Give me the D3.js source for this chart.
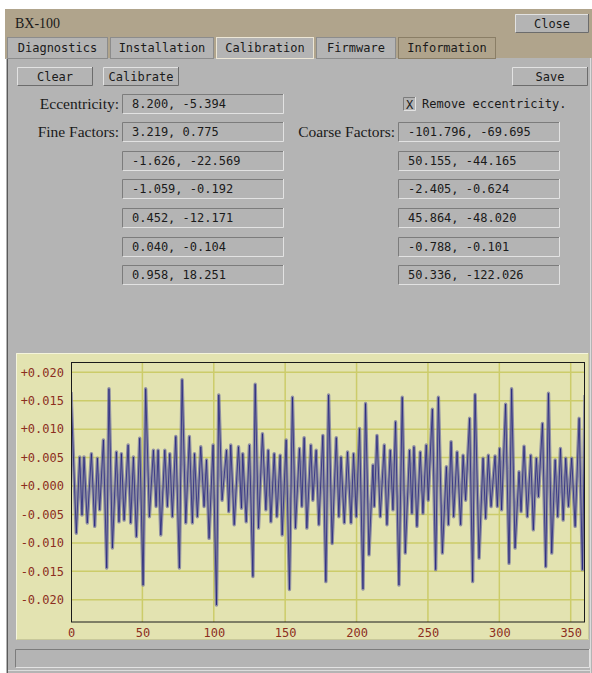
<!DOCTYPE html>
<html>
<head>
<meta charset="utf-8">
<script src="https://cdn.jsdelivr.net/npm/d3@7"></script>
<style>
  body { margin: 0; background: #ffffff; }
  svg { display: block; }
  .mono { font-family: "DejaVu Sans Mono", monospace; font-size: 12px; fill: #1a1a1a; }
  .serif { font-family: "Liberation Serif", "DejaVu Serif", serif; font-size: 15.5px; fill: #1a1a1a; }
</style>
</head>
<body>
<svg id="win" width="592" height="673"></svg>
<script>
// ---- texts of the window
var tabNames = ["Diagnostics", "Installation", "Calibration", "Firmware", "Information"];
var eccentricity = "8.200, -5.394";
var fineFactors = ["3.219, 0.775", "-1.626, -22.569", "-1.059, -0.192", "0.452, -12.171", "0.040, -0.104", "0.958, 18.251"];
var coarseFactors = ["-101.796, -69.695", "50.155, -44.165", "-2.405, -0.624", "45.864, -48.020", "-0.788, -0.101", "50.336, -122.026"];

// ---- chart data (angle in degrees, residual)
var angleDeg = [0, 3.7, 6.1, 7.7, 9.1, 11.4, 14.3, 16.6, 18.5, 20.1, 22.7, 25.0, 26.6, 29.0, 31.8, 33.6, 35.3, 37.2, 40.0, 41.8,
  43.7, 45.8, 48.1, 50.5, 52.3, 54.9, 57.7, 59.6, 61.0, 62.9, 65.7, 67.5, 69.2, 71.0, 73.4, 75.9, 77.8, 80.4, 82.9, 85.0,
  86.5, 88.5, 90.9, 93.2, 94.9, 96.7, 99.5, 101.9, 103.5, 105.8, 108.9, 110.5, 111.9, 114.3, 117.3, 119.4,
  120.3, 122.7, 125.0, 127.4, 129.0, 131.3, 134.1, 136.5, 138.1, 140.0, 142.3, 144.2, 146.5, 147.9, 150.7, 153.0, 155.1, 157.2,
  160.0, 161.7, 163.3, 165.2, 168.0, 169.4, 171.7, 173.6, 176.4, 178.5, 180.4, 182.9, 185.8, 187.6, 189.1, 191.4, 193.7, 196.1,
  197.9, 199.8, 202.1, 204.5, 206.3, 208.7, 211.5, 212.4, 214.3, 216.6, 219.4, 221.3, 223.6, 225.5, 227.3, 229.7, 232.0, 234.1,
  237.1, 238.8, 240.2, 242.3, 244.6, 246.5, 248.8, 250.2, 253.1, 255.4, 257.3, 260.1, 262.9, 264.3, 266.2, 268.0, 270.4, 272.9,
  274.6, 276.4, 279.2, 281.3, 283.0, 285.8, 288.6, 290.4, 292.3, 294.2, 297.0, 298.6, 300.2, 301.6, 304.4, 306.8, 308.6, 311.0,
  313.8, 315.2, 317.3, 319.6, 322.0, 323.8, 325.9, 327.4, 330.2, 332.5, 334.4, 336.7, 339.1, 340.9, 342.8, 344.7, 346.5, 348.4,
  350.7, 353.1, 355.9, 358.2, 360];
var residual = [0.0165, -0.0083, 0.0051, -0.0051, 0.0051, -0.0065, 0.0057, -0.0071, 0.0049, -0.0042, 0.0081, -0.0144, 0.0171, -0.0109, 0.0060, -0.0063, 0.0057, -0.0060, 0.0072, -0.0065,
  0.0051, -0.0089, 0.0084, -0.0174, 0.0171, -0.0054, 0.0063, -0.0036, 0.0063, -0.0086, 0.0063, -0.0036, 0.0057, -0.0054, 0.0087, -0.0144, 0.0187, -0.0065, 0.0087, -0.0065,
  0.0057, -0.0054, 0.0069, -0.0036, 0.0046, -0.0092, 0.0072, -0.0209, 0.0160, -0.0025, 0.0063, -0.0045, 0.0072, -0.0068, 0.0069, -0.0039,
  0.0057, -0.0063, 0.0072, -0.0159, 0.0179, -0.0074, 0.0092, -0.0042, 0.0063, -0.0063, 0.0057, -0.0054, 0.0054, -0.0086, 0.0081, -0.0182, 0.0156, -0.0074,
  0.0066, -0.0036, 0.0085, -0.0074, 0.0072, -0.0025, 0.0063, -0.0068, 0.0089, -0.0168, 0.0160, -0.0101, 0.0085, -0.0054, 0.0051, -0.0065, 0.0060, -0.0065,
  0.0057, -0.0054, 0.0101, -0.0181, 0.0145, -0.0121, 0.0037, -0.0036, 0.0089, -0.0054, 0.0072, -0.0068, 0.0063, -0.0042, 0.0113, -0.0174, 0.0156, -0.0118,
  0.0063, -0.0048, 0.0069, -0.0071, 0.0060, -0.0048, 0.0072, -0.0025, 0.0135, -0.0147, 0.0156, -0.0118, 0.0034, -0.0068, 0.0078, -0.0054, 0.0060, -0.0068,
  0.0054, -0.0025, 0.0119, -0.0168, 0.0161, -0.0127, 0.0049, -0.0057, 0.0054, -0.0036, 0.0053, -0.0036, 0.0066, -0.0042, 0.0144, -0.0136, 0.0171, -0.0109,
  0.0025, -0.0045, 0.0070, -0.0054, 0.0054, -0.0077, 0.0049, -0.0019, 0.0110, -0.0142, 0.0163, -0.0118, 0.0046, -0.0054, 0.0066, -0.0060, 0.0049, -0.0036,
  0.0049, -0.0071, 0.0119, -0.0147, 0.0160];
var xTicks = [0, 50, 100, 150, 200, 250, 300, 350];
var yTicks = [-0.020, -0.015, -0.010, -0.005, 0.000, 0.005, 0.010, 0.015, 0.020];

var svg = d3.select("#win");

var tan = "#b0a48c", gray = "#b4b4b4";

// bevelled box: raised (buttons) or sunken (fields)
function bevel(x, y, w, h, sunken, face) {
    var g = svg.append("g");
    g.append("rect").attr("x", x).attr("y", y).attr("width", w).attr("height", h).attr("fill", face || gray);
    var lite = sunken ? "#7c7c7c" : "#e2e2e2";
    var dark = sunken ? "#e2e2e2" : "#6c6c6c";
    g.append("path").attr("d", "M" + (x + 0.5) + "," + (y + h) + "V" + (y + 0.5) + "H" + (x + w))
        .attr("fill", "none").attr("stroke", lite);
    g.append("path").attr("d", "M" + (x + 0.5) + "," + (y + h - 0.5) + "H" + (x + w - 0.5) + "V" + y)
        .attr("fill", "none").attr("stroke", dark);
    return g;
}

function button(x, y, w, h, label) {
    bevel(x, y, w, h, false);
    svg.append("text").attr("class", "mono").attr("x", x + w / 2).attr("y", y + h / 2 + 4)
        .attr("text-anchor", "middle").text(label);
}

function field(x, y, txt) {
    bevel(x, y, 162, 20, true);
    svg.append("text").attr("class", "mono").attr("x", x + 10).attr("y", y + 14).text(txt);
}

// ---- window chrome
svg.append("rect").attr("x", 5).attr("y", 9).attr("width", 587).attr("height", 50).attr("fill", tan);
svg.append("text").attr("class", "serif").attr("x", 15).attr("y", 28).style("font-size", "14px").text("BX-100");
button(515, 14, 74, 19, "Close");

svg.append("rect").attr("x", 6).attr("y", 58).attr("width", 586).attr("height", 615).attr("fill", gray);
svg.append("line").attr("x1", 7.5).attr("x2", 7.5).attr("y1", 58).attr("y2", 673).attr("stroke", "#5a5a5a");
svg.append("line").attr("x1", 590.5).attr("x2", 590.5).attr("y1", 58).attr("y2", 673).attr("stroke", "#dcdcdc");
svg.append("line").attr("x1", 8).attr("x2", 591).attr("y1", 670.5).attr("y2", 670.5).attr("stroke", "#dcdcdc");

// tabs
var tabX = [7, 110, 216, 316, 398], tabW = [100, 103, 97, 79, 97];
tabNames.forEach(function(name, i) {
    var sel = name === "Calibration";
    var info = name === "Information";
    svg.append("rect").attr("x", tabX[i] + 0.5).attr("y", 37.5).attr("width", tabW[i]).attr("height", 21)
        .attr("fill", info ? tan : gray)
        .attr("stroke", sel ? "#ece6d6" : (info ? "#8a7e66" : "#8c8c8c"));
    svg.append("text").attr("class", "mono").attr("x", tabX[i] + tabW[i] / 2 + 0.5).attr("y", 52)
        .attr("text-anchor", "middle").text(name);
});

button(17, 67, 76, 19, "Clear");
button(103, 67, 76, 19, "Calibrate");
button(512, 67, 76, 19, "Save");

// ---- factor fields
var rowY = d3.range(7).map(function(i) { return 93.5 + i * 28.6; });
svg.append("text").attr("class", "serif").attr("x", 119).attr("y", rowY[0] + 15).attr("text-anchor", "end").text("Eccentricity:");
field(122, Math.round(rowY[0]), eccentricity);
svg.append("text").attr("class", "serif").attr("x", 119).attr("y", rowY[1] + 15).attr("text-anchor", "end").text("Fine Factors:");
fineFactors.forEach(function(t, i) { field(122, Math.round(rowY[i + 1]), t); });
svg.append("text").attr("class", "serif").attr("x", 395).attr("y", rowY[1] + 15).attr("text-anchor", "end").text("Coarse Factors:");
coarseFactors.forEach(function(t, i) { field(398, Math.round(rowY[i + 1]), t); });

// checkbox
bevel(403, 97, 13, 14, true);
svg.append("text").attr("class", "mono").attr("x", 409.5).attr("y", 108.5).attr("text-anchor", "middle").text("X");
svg.append("text").attr("class", "mono").attr("x", 422).attr("y", 108).text("Remove eccentricity.");

// ---- chart panel
svg.append("rect").attr("x", 16).attr("y", 353).attr("width", 573).attr("height", 287).attr("fill", "#e3e3b1");
svg.append("path").attr("d", "M16.5,640V353.5H589").attr("fill", "none").attr("stroke", "#f4f4dc");
svg.append("path").attr("d", "M16.5,639.5H588.5V353").attr("fill", "none").attr("stroke", "#c8c89a");

var x = d3.scaleLinear().domain([0, 360]).range([71, 585]);
var y = d3.scaleLinear().domain([-0.0239, 0.0218]).range([622, 362]);

var grid = svg.append("g");
grid.selectAll(".vg").data(xTicks.slice(1)).enter().append("line")
    .attr("x1", function(d) { return x(d); }).attr("x2", function(d) { return x(d); })
    .attr("y1", 362).attr("y2", 622)
    .attr("stroke", "#cccc6a").attr("stroke-width", 1.5);
grid.selectAll(".hg").data(yTicks).enter().append("line")
    .attr("x1", 71).attr("x2", 585)
    .attr("y1", function(d) { return y(d); }).attr("y2", function(d) { return y(d); })
    .attr("stroke", "#cccc6a").attr("stroke-width", 1.5);

svg.append("clipPath").attr("id", "plotclip").append("rect")
    .attr("x", 71).attr("y", 362).attr("width", 514).attr("height", 260);

var pts = angleDeg.map(function(a, i) { return [a, residual[i]]; });
var line = d3.line().x(function(d) { return x(d[0]); }).y(function(d) { return y(d[1]); });

// soft grey-blue halo with a thin navy core, like the original anti-aliased trace
var plot = svg.append("g").attr("clip-path", "url(#plotclip)");
plot.append("path").datum(pts).attr("d", line)
    .attr("fill", "none").attr("stroke", "#72729e").attr("stroke-opacity", 0.75)
    .attr("stroke-width", 3.4).attr("stroke-linejoin", "round");
plot.append("path").datum(pts).attr("d", line)
    .attr("fill", "none").attr("stroke", "#22227e").attr("stroke-opacity", 0.85).attr("stroke-width", 0.9)
    .attr("stroke-linejoin", "round");

// frame
svg.append("rect").attr("x", 71.5).attr("y", 362.5).attr("width", 513).attr("height", 259.5)
    .attr("fill", "none").attr("stroke", "#1a1a1a");

// axes (labels only)
var fmtY = function(v) { return (v < -1e-9 ? "-" : "+") + Math.abs(v).toFixed(3); };
var yAxis = svg.append("g").attr("transform", "translate(71,0)")
    .call(d3.axisLeft(y).tickValues(yTicks).tickFormat(fmtY).tickSize(0).tickPadding(7));
var xAxis = svg.append("g").attr("transform", "translate(0,622)")
    .call(d3.axisBottom(x).tickValues(xTicks).tickFormat(d3.format("d")).tickSize(0).tickPadding(6));
[yAxis, xAxis].forEach(function(a) {
    a.select(".domain").remove();
    a.selectAll("text").attr("fill", "#8c2e1e")
        .style("font-family", "'DejaVu Sans Mono', monospace").style("font-size", "12px");
});

// ---- status bar
bevel(15, 649, 575, 19, true);
</script>
</body>
</html>
